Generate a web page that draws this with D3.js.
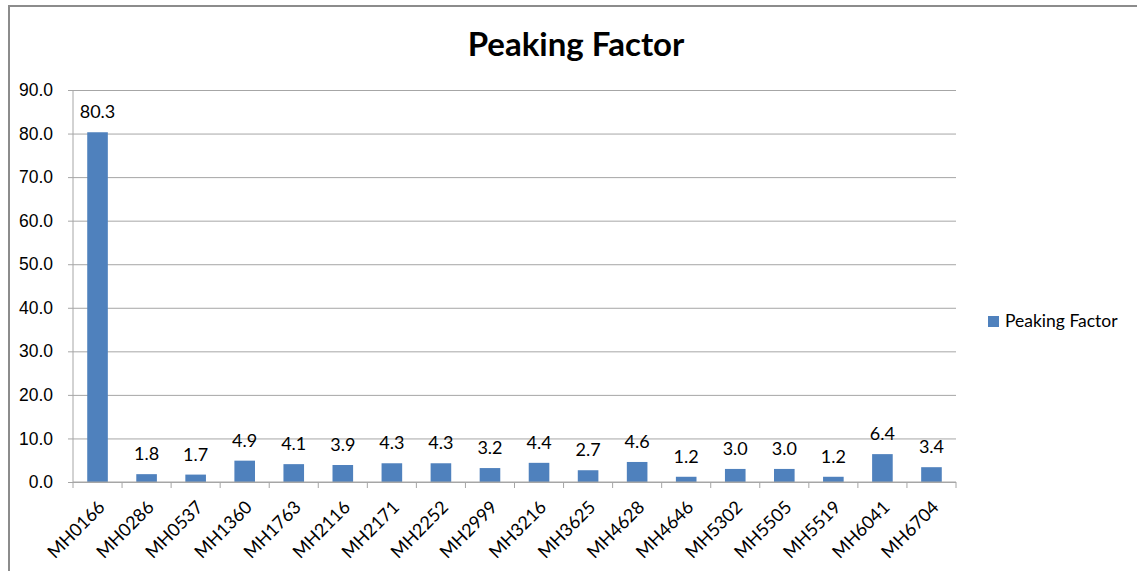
<!DOCTYPE html>
<html>
<head>
<meta charset="utf-8">
<script src="https://cdn.jsdelivr.net/npm/d3@7"></script>
<style>
  html, body { margin: 0; padding: 0; background: #fff; }
  svg { display: block; font-family: Lato, "Open Sans", sans-serif; }
</style>
</head>
<body>
<svg id="chart" width="1137" height="571"></svg>
<script>
// Peaking factor per manhole
const categories = ["MH0166","MH0286","MH0537","MH1360","MH1763","MH2116","MH2171","MH2252","MH2999",
                    "MH3216","MH3625","MH4628","MH4646","MH5302","MH5505","MH5519","MH6041","MH6704"];
const peakingFactor = [80.3, 1.8, 1.7, 4.9, 4.1, 3.9, 4.3, 4.3, 3.2, 4.4, 2.7, 4.6, 1.2, 3.0, 3.0, 1.2, 6.4, 3.4];
const yTicks = [0, 10, 20, 30, 40, 50, 60, 70, 80, 90];
const seriesName = "Peaking Factor";
const chartTitle = "Peaking Factor";

const svg = d3.select("#chart");
const barColor = "#4F81BD";
const gridColor = "#A6A6A6";

// chart frame (left and top edges)
svg.append("path")
  .attr("d", "M9,571 V6 H1137")
  .attr("fill", "none")
  .attr("stroke", "#8C8C8C")
  .attr("stroke-width", 2);

const plot = { left: 73, right: 956, top: 90, bottom: 482 };

const x = d3.scaleBand().domain(categories).range([plot.left, plot.right]).paddingInner(0).paddingOuter(0);
const y = d3.scaleLinear().domain([0, 90]).range([plot.bottom, plot.top]);

// horizontal gridlines + y tick labels
const yAxis = d3.axisLeft(y).tickValues(yTicks).tickFormat(d3.format(".1f"))
  .tickSize(-(plot.right - plot.left)).tickPadding(20);
const gy = svg.append("g").attr("transform", `translate(${plot.left},0)`).call(yAxis);
gy.select(".domain").remove();
gy.selectAll(".tick line").attr("stroke", gridColor).attr("x1", -5);
gy.selectAll(".tick text").attr("fill", "#000").style("font-size", "17.5px");

// vertical axis line
svg.append("line")
  .attr("x1", plot.left).attr("x2", plot.left)
  .attr("y1", plot.top).attr("y2", plot.bottom)
  .attr("stroke", gridColor);

// bars
const barW = x.bandwidth() * 0.42;
svg.append("g").selectAll("rect")
  .data(peakingFactor)
  .join("rect")
  .attr("x", (d, i) => x(categories[i]) + x.bandwidth() / 2 - barW / 2)
  .attr("y", d => y(d))
  .attr("width", barW)
  .attr("height", d => y(0) - y(d))
  .attr("fill", barColor);

// value labels
svg.append("g").selectAll("text")
  .data(peakingFactor)
  .join("text")
  .attr("x", (d, i) => x(categories[i]) + x.bandwidth() / 2)
  .attr("y", d => y(d) - 14)
  .attr("text-anchor", "middle")
  .style("font-size", "18px")
  .attr("fill", "#000")
  .text(d => d.toFixed(1));

// x axis with ticks at band boundaries
svg.append("line")
  .attr("x1", plot.left).attr("x2", plot.right)
  .attr("y1", plot.bottom).attr("y2", plot.bottom)
  .attr("stroke", gridColor);
const boundaries = categories.map(c => x(c)).concat([plot.right]);
svg.append("g").selectAll("line")
  .data(boundaries)
  .join("line")
  .attr("x1", d => d).attr("x2", d => d)
  .attr("y1", plot.bottom).attr("y2", plot.bottom + 6)
  .attr("stroke", gridColor);

// rotated category labels
svg.append("g").selectAll("text")
  .data(categories)
  .join("text")
  .attr("transform", c => `translate(${x(c) + x.bandwidth() / 2 + 4},${plot.bottom + 22}) rotate(-45)`)
  .attr("text-anchor", "end")
  .attr("dy", "0.35em")
  .style("font-size", "18px")
  .attr("fill", "#000")
  .text(c => c);

// title
svg.append("text")
  .attr("x", 576).attr("y", 56)
  .attr("text-anchor", "middle")
  .style("font-size", "33px")
  .style("font-weight", "bold")
  .attr("fill", "#000")
  .text(chartTitle);

// legend
const lg = svg.append("g").attr("transform", "translate(988,316)");
lg.append("rect").attr("width", 11).attr("height", 11).attr("fill", barColor);
lg.append("text").attr("x", 17).attr("y", 11)
  .style("font-size", "17.5px").attr("fill", "#000").text(seriesName);
</script>
</body>
</html>
